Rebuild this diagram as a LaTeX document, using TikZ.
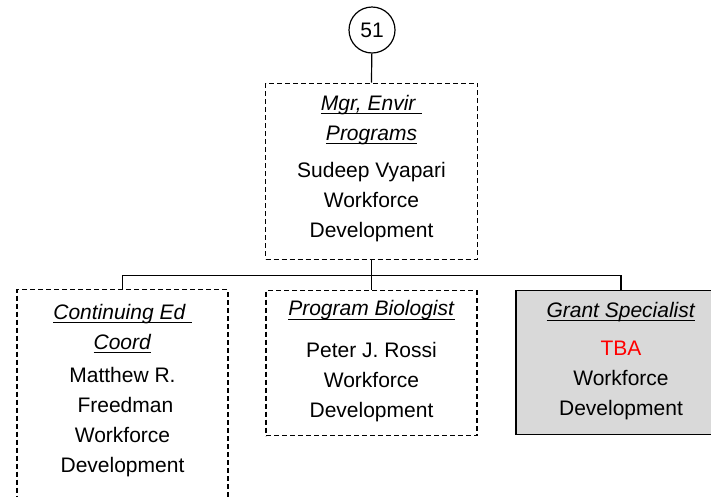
\documentclass[tikz,border=0pt]{standalone}
\usepackage{fontspec}
\setmainfont{Liberation Sans}
\usetikzlibrary{positioning}

% подчёркнутый курсив для должностей
\newcommand{\postitle}[1]{\setbox0\hbox{\textit{#1}}%
    \rlap{\rule[-4pt]{\wd0}{1.4pt}}\box0}

\tikzset{
    posbox/.style={rectangle, draw=black, line width=1.2pt, inner sep=0pt,
        dash pattern=on 5pt off 3pt, anchor=north},
    vacantbox/.style={posbox, solid, fill=black!15},
    postext/.style={align=center, inner sep=0pt, anchor=north,
        font=\fontsize{21}{30}\selectfont},
    link/.style={draw=black, line width=1.2pt}
}

\begin{document}
\begin{tikzpicture}[x=1pt, y=-1pt]

    % рамка рисунка
    \clip (0,0) rectangle (711,496);
    \fill[white] (0,0) rectangle (711,496);

    % номер страницы
    \node[circle, draw, line width=1.2pt, minimum size=46pt, inner sep=0pt,
        font=\fontsize{21}{24}\selectfont] (n51) at (372,30) {51};

    % руководитель
    \node[posbox, minimum width=212pt, minimum height=176pt] (mgr) at (371.5,82.5) {};
    \node[postext, below=12.5pt of mgr.north] (mgrtext)
        {\postitle{Mgr, Envir\ }\\\postitle{Programs}\\[7pt]
         Sudeep Vyapari\\Workforce\\Development};

    % подчинённые
    \node[posbox, minimum width=211pt, minimum height=260pt] (ced) at (122.5,289) {};
    \node[postext, below=15pt of ced.north] (cedtext)
        {\postitle{Continuing Ed\ }\\\postitle{Coord}\\[3pt]
         Matthew R.\\\ Freedman\\Workforce\\Development};

    \node[posbox, minimum width=211pt, minimum height=145pt] (bio) at (371.5,290) {};
    \node[postext, below=10.5pt of bio.north] (biotext)
        {\postitle{Program Biologist}\\[12pt]
         Peter J. Rossi\\Workforce\\Development};

    \node[vacantbox, minimum width=210pt, minimum height=144pt] (grant) at (621,290) {};
    \node[postext, below=12pt of grant.north] (granttext)
        {\postitle{Grant Specialist}\\[8pt]
         \textcolor{red}{TBA}\\Workforce\\Development};

    % связи
    \draw[link] (n51) -- (mgr.north);
    \draw[link] (mgr.south) -- ++(0,16) coordinate (bus);
    \draw[link] (ced.north) |- (bus) -| (grant.north);
    \draw[link] (bus) -- (bio.north);

\end{tikzpicture}
\end{document}
